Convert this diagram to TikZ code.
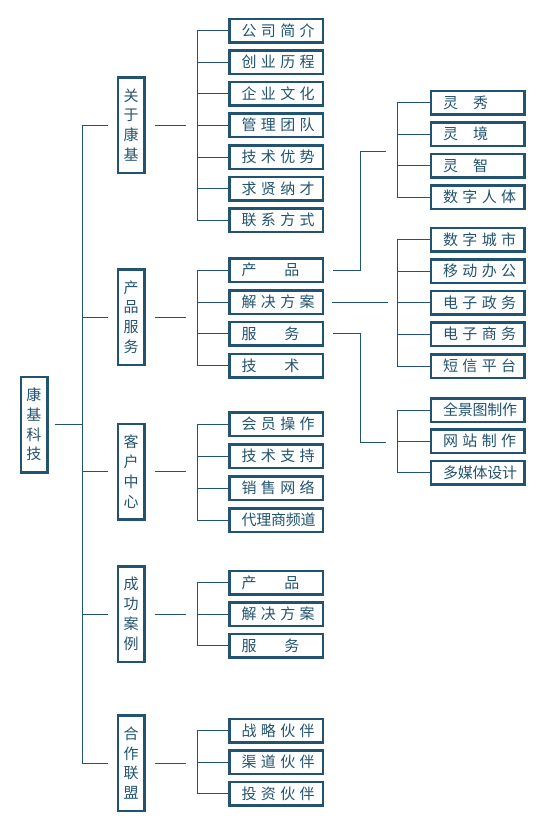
\documentclass[tikz,border=0pt]{standalone}
\usepackage{fontspec}
\newfontfamily\cjk{Noto Sans CJK SC}
\definecolor{kc}{RGB}{34,83,112}
\newcommand\gp{\hspace{4.4pt}}
\newcommand\gs{\hspace{-0.2pt}}
\def\FF#1#2#3#4{#1\gp#2\gp#3\gp#4}
\newcommand\F[1]{\makebox[69pt][l]{\FF#1}}
\def\VV#1#2#3#4#5{#1\gs#2\gs#3\gs#4\gs#5}
\newcommand\V[1]{\makebox[69pt][l]{\VV#1}}
\def\TTa#1#2{#1\hspace{28pt}#2}
\newcommand\Ta[1]{\makebox[69pt][l]{\TTa#1}}
\def\TTb#1#2{#1\hspace{15pt}#2}
\newcommand\Tb[1]{\makebox[69pt][l]{\TTb#1}}
\begin{document}
\begin{tikzpicture}[x=1pt,y=-1pt,
  box/.style={draw=kc, line width=2.5pt, inner sep=0pt, text=kc},
  vbox/.style={box, minimum width=26.5pt, minimum height=95.5pt, align=center,
    font=\cjk\fontsize{15}{19.8}\selectfont},
  hbox/.style={box, minimum width=93.5pt, minimum height=23.5pt,
    font=\cjk\fontsize{15}{17}\selectfont, text height=12.3pt, text depth=1.2pt},
  conn/.style={draw=kc, line width=1pt}]
\useasboundingbox (0,0) rectangle (550,828);

% guide coordinates
\coordinate (trunk) at (82,0);
\coordinate (bar2) at (197,0);
\coordinate (mid) at (360,0);
\coordinate (bar3) at (397,0);
\coordinate (pj) at (386,151.5);
\coordinate (sj) at (386,442);

% root and level 1
\node[vbox] (root) at (34,424.5) {康\\基\\科\\技};
\node[vbox] (a) at (131,125) {关\\于\\康\\基};
\node[vbox] (b) at (131,317) {产\\品\\服\\务};
\node[vbox] (c) at (131,471.5) {客\\户\\中\\心};
\node[vbox] (d) at (131,614) {成\\功\\案\\例};
\node[vbox] (e) at (131,763) {合\\作\\联\\盟};

% level 2
\node[hbox] (a1) at (276,30.5) {\F{公司简介}};
\node[hbox] (a2) at (276,62.1) {\F{创业历程}};
\node[hbox] (a3) at (276,93.8) {\F{企业文化}};
\node[hbox] (a4) at (276,125.4) {\F{管理团队}};
\node[hbox] (a5) at (276,157) {\F{技术优势}};
\node[hbox] (a6) at (276,188.7) {\F{求贤纳才}};
\node[hbox] (a7) at (276,220.3) {\F{联系方式}};

\node[hbox] (b1) at (276,270) {\Ta{产品}};
\node[hbox] (b2) at (276,302) {\F{解决方案}};
\node[hbox] (b3) at (276,333.5) {\Ta{服务}};
\node[hbox] (b4) at (276,365.5) {\Ta{技术}};

\node[hbox] (c1) at (276,424) {\F{会员操作}};
\node[hbox] (c2) at (276,456) {\F{技术支持}};
\node[hbox] (c3) at (276,488) {\F{销售网络}};
\node[hbox] (c4) at (276,520) {\V{代理商频道}};

\node[hbox] (d1) at (276,582.5) {\Ta{产品}};
\node[hbox] (d2) at (276,614) {\F{解决方案}};
\node[hbox] (d3) at (276,645.5) {\Ta{服务}};

\node[hbox] (e1) at (276,730.5) {\F{战略伙伴}};
\node[hbox] (e2) at (276,762) {\F{渠道伙伴}};
\node[hbox] (e3) at (276,793.5) {\F{投资伙伴}};

% level 3
\node[hbox] (p1) at (477.5,102.5) {\Tb{灵秀}};
\node[hbox] (p2) at (477.5,134) {\Tb{灵境}};
\node[hbox] (p3) at (477.5,165.5) {\Tb{灵智}};
\node[hbox] (p4) at (477.5,197) {\F{数字人体}};

\node[hbox] (s1) at (477.5,239.5) {\F{数字城市}};
\node[hbox] (s2) at (477.5,271) {\F{移动办公}};
\node[hbox] (s3) at (477.5,302.5) {\F{电子政务}};
\node[hbox] (s4) at (477.5,334) {\F{电子商务}};
\node[hbox] (s5) at (477.5,366) {\F{短信平台}};

\node[hbox] (v1) at (477.5,410) {\V{全景图制作}};
\node[hbox] (v2) at (477.5,441) {\F{网站制作}};
\node[hbox] (v3) at (477.5,472.5) {\V{多媒体设计}};

% root connectors
\draw[conn] ([xshift=6.5pt]root.east) -- (root -| trunk);
\draw[conn] (a -| trunk) -- (e -| trunk);
\foreach \n in {a,b,c,d,e} {
  \draw[conn] (\n -| trunk) -- ([xshift=-9pt]\n.west);
  \draw[conn] ([xshift=9pt]\n.east) -- ([xshift=40pt]\n.east);
}

% level 2 bars
\draw[conn] (a1 -| bar2) -- (a7 -| bar2);
\draw[conn] (b1 -| bar2) -- (b4 -| bar2);
\draw[conn] (c1 -| bar2) -- (c4 -| bar2);
\draw[conn] (d1 -| bar2) -- (d3 -| bar2);
\draw[conn] (e1 -| bar2) -- (e3 -| bar2);
\foreach \n in {a1,a2,a3,a4,a5,a6,a7,b1,b2,b3,b4,c1,c2,c3,c4,d1,d2,d3,e1,e2,e3}
  \draw[conn] (\n -| bar2) -- (\n.west);

% level 2 to level 3
\draw[conn] ([xshift=9pt]b1.east) -- (b1.east -| mid) |- (pj);
\draw[conn] ([xshift=8pt]b2.east) -- ([xshift=-9pt]b2 -| bar3);
\draw[conn] ([xshift=9pt]b3.east) -- (b3.east -| mid) |- (sj);

% level 3 bars
\draw[conn] (p1 -| bar3) -- (p4 -| bar3);
\draw[conn] (s1 -| bar3) -- (s5 -| bar3);
\draw[conn] (v1 -| bar3) -- (v3 -| bar3);
\foreach \n in {p1,p2,p3,p4,s1,s2,s3,s4,s5,v1,v2,v3}
  \draw[conn] (\n -| bar3) -- (\n.west);
\end{tikzpicture}
\end{document}
